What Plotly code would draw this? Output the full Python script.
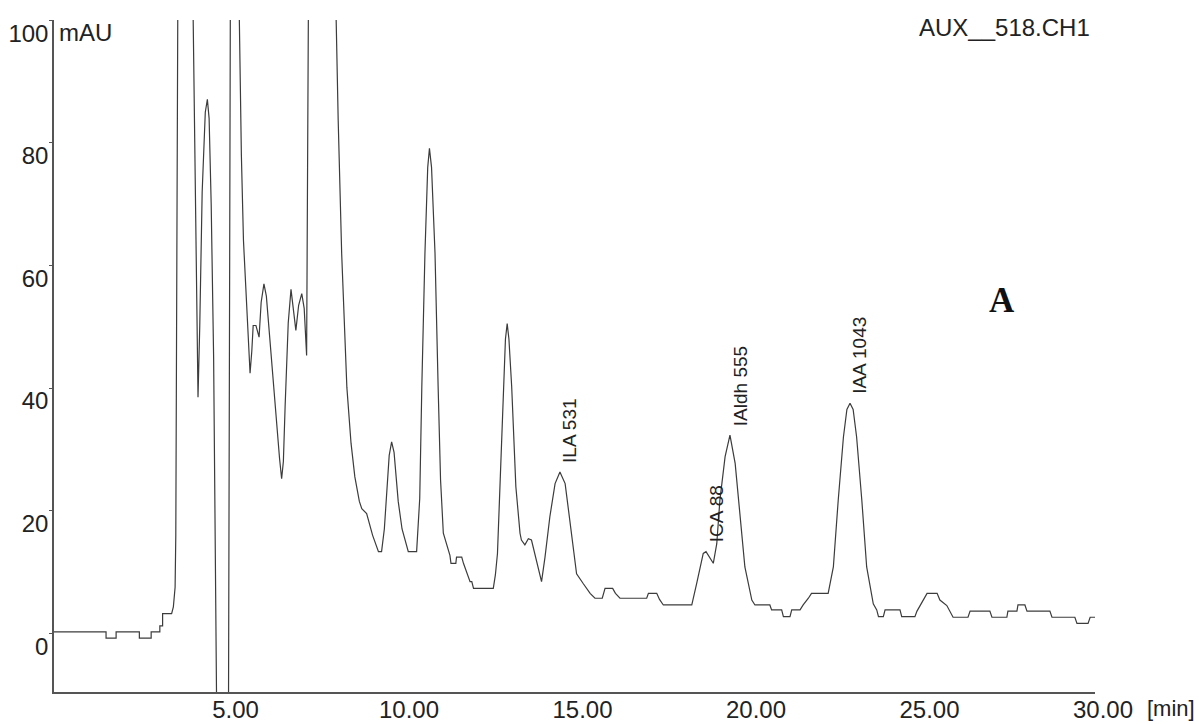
import plotly.graph_objects as go

# Chromatogram trace: retention time [min] and detector signal [mAU]
time_min = [
    0.00, 1.50, 1.50, 1.79, 1.79, 2.46, 2.46, 2.80, 2.80, 3.05, 3.05, 3.13, 3.13, 3.39,
    3.44, 3.49, 3.51, 3.53, 3.55, 3.78, 4.01, 4.08, 4.15, 4.20, 4.27, 4.36, 4.42, 4.47,
    4.53, 4.60, 4.66, 4.71, 4.76, 4.87, 4.98, 5.03, 5.08, 5.21, 5.34, 5.40, 5.46, 5.56,
    5.65, 5.70, 5.74, 5.82, 5.91, 5.97, 6.05, 6.12, 6.22, 6.32, 6.42, 6.50, 6.56, 6.61,
    6.66, 6.75, 6.83, 6.90, 6.97, 7.05, 7.14, 7.21, 7.28, 7.33, 7.72, 8.13, 8.19, 8.29,
    8.44, 8.56, 8.67, 8.80, 8.87, 9.01, 9.18, 9.35, 9.44, 9.52, 9.58, 9.66, 9.73, 9.80,
    9.86, 9.92, 10.03, 10.21, 10.45, 10.54, 10.60, 10.69, 10.77, 10.82, 10.88, 10.98,
    11.07, 11.14, 11.22, 11.41, 11.44, 11.58, 11.60, 11.75, 11.80, 11.99, 12.04, 12.09,
    12.66, 12.72, 12.78, 12.85, 12.95, 13.01, 13.06, 13.11, 13.19, 13.31, 13.43, 13.47,
    13.57, 13.67, 13.76, 13.90, 14.05, 14.15, 14.29, 14.44, 14.58, 14.73, 14.87, 15.06,
    15.25, 15.45, 15.59, 15.80, 15.88, 16.10, 16.18, 16.31, 17.08, 17.13, 17.37, 17.45,
    17.56, 18.38, 18.52, 18.62, 18.71, 18.79, 18.86, 19.00, 19.10, 19.19, 19.34, 19.48,
    19.63, 19.77, 19.91, 20.11, 20.20, 20.63, 20.68, 20.97, 21.02, 21.21, 21.26, 21.50,
    21.59, 21.74, 21.83, 22.31, 22.46, 22.60, 22.75, 22.85, 22.94, 23.03, 23.13, 23.28,
    23.42, 23.61, 23.71, 23.76, 23.90, 23.95, 24.38, 24.43, 24.81, 24.87, 24.96, 25.04,
    25.16, 25.45, 25.53, 25.73, 25.82, 25.91, 26.34, 26.40, 26.97, 27.03, 27.46, 27.49,
    27.75, 27.78, 27.98, 28.04, 28.70, 28.76, 29.42, 29.48, 29.80, 29.86, 30.00,
]
signal_mau = [
    0.2, 0.2, -0.8, -0.8, 0.2, 0.2, -0.8, -0.8, 0.2, 0.2, 1.2, 1.2, 3.2, 3.2,
    4.3, 7.5, 16.0, 45.0, 100.5, 420.0, 100.5, 70.0, 38.5, 50.0, 72.0, 85.0, 87.1, 84.0,
    70.0, 45.0, 15.0, -9.8, -60.0, -90.0, -60.0, -9.8, 100.5, 380.0, 100.5, 78.0, 64.1, 52.0,
    42.4, 46.0, 50.2, 50.2, 48.3, 54.0, 57.0, 55.0, 47.8, 41.0, 34.3, 28.5, 25.2, 28.0,
    36.9, 50.6, 56.1, 53.0, 49.4, 53.5, 55.4, 53.0, 45.3, 100.5, 600.0, 100.5, 83.7, 62.0,
    40.1, 31.0, 25.5, 21.5, 20.3, 19.5, 16.0, 13.3, 13.3, 17.0, 23.0, 29.0, 31.2, 29.5,
    25.5, 21.5, 17.0, 13.3, 13.3, 22.0, 40.2, 62.0, 76.0, 79.1, 76.0, 62.0,
    40.2, 25.0, 16.3, 12.7, 11.4, 11.4, 12.4, 12.4, 11.4, 8.4, 8.4, 7.3,
    7.3, 9.5, 13.0, 23.9, 40.2, 48.0, 50.5, 48.0, 40.2, 23.9, 16.3, 15.2,
    14.4, 15.4, 15.2, 12.0, 8.4, 12.4, 19.0, 24.4, 26.3, 24.4, 17.9, 9.7,
    8.1, 6.5, 5.7, 5.7, 7.3, 7.3, 6.5, 5.7, 5.7, 6.5, 6.5, 5.5,
    4.6, 4.6, 8.1, 10.8, 13.0, 13.3, 12.7, 11.4, 14.6, 21.7, 28.8, 32.3,
    27.7, 19.0, 10.8, 5.4, 4.6, 4.6, 3.8, 3.8, 2.7, 2.7, 3.8, 3.8,
    4.6, 5.7, 6.5, 6.5, 10.8, 21.7, 32.0, 36.5, 37.5, 36.5, 32.0, 21.7,
    10.8, 4.8, 3.8, 2.7, 2.7, 3.8, 3.8, 2.7, 2.7, 3.6, 4.5, 5.4,
    6.5, 6.5, 5.4, 4.5, 3.6, 2.6, 2.6, 3.6, 3.6, 2.6, 2.6, 3.6,
    3.6, 4.6, 4.6, 3.6, 3.6, 2.6, 2.6, 1.6, 1.6, 2.6, 2.6,
]

# Identified peaks: name with area, apex time and apex height
peak_names = ["ILA 531", "ICA 88", "IAldh 555", "IAA 1043"]
peak_times = [14.58, 18.79, 19.48, 22.94]
peak_heights = [26.3, 13.3, 32.3, 37.5]

x_ticks = [5, 10, 15, 20, 25, 30]
y_ticks = [0, 20, 40, 60, 80, 100]

INK = "#3c3c3c"
TEXT = "#222"
FONT = "Liberation Sans, Arial, sans-serif"

fig = go.Figure()
fig.add_trace(go.Scatter(
    x=time_min, y=signal_mau, mode="lines",
    line=dict(color=INK, width=1.2), hoverinfo="skip", showlegend=False,
))

annotations = []
for name, t, h in zip(peak_names, peak_times, peak_heights):
    annotations.append(dict(
        x=t, y=h, xref="x", yref="y", text=name, showarrow=False,
        textangle=-90, xanchor="center", yanchor="bottom",
        xshift=10, yshift=7, font=dict(family=FONT, size=19, color=TEXT),
    ))

annotations += [
    dict(x=0, y=100, xref="x", yref="y", text="mAU", showarrow=False,
         xanchor="left", yanchor="middle", xshift=3, yshift=-12,
         font=dict(family=FONT, size=24, color=TEXT)),
    dict(x=1, y=100, xref="paper", yref="y", text="AUX__518.CH1", showarrow=False,
         xanchor="right", yanchor="middle", xshift=-3, yshift=-7,
         font=dict(family=FONT, size=24, color=TEXT)),
    dict(x=30, y=-0.024, xref="x", yref="paper", text="[min]", showarrow=False,
         xanchor="left", yanchor="middle", xshift=50,
         font=dict(family=FONT, size=22, color=TEXT)),
    dict(x=27.32, y=54.3, xref="x", yref="y", text="<b>A</b>", showarrow=False,
         xanchor="center", yanchor="middle",
         font=dict(family="Liberation Serif, Times New Roman, serif", size=35, color="#111")),
]

fig.update_layout(
    width=1199, height=724,
    margin=dict(l=54, r=104, t=20, b=32, autoexpand=False),
    paper_bgcolor="white", plot_bgcolor="white",
    annotations=annotations,
    xaxis=dict(
        range=[0, 30], tickvals=x_ticks, tickformat=".2f", automargin=False,
        showgrid=False, zeroline=False, showline=True, linecolor="#555", linewidth=1.5,
        ticks="", ticklabelshift=8, ticklabelstandoff=-5,
        tickfont=dict(family=FONT, size=24, color=TEXT),
    ),
    yaxis=dict(
        range=[-9.6, 100.05], tickvals=y_ticks, automargin=False,
        showgrid=False, zeroline=False, showline=True, linecolor="#555", linewidth=1.5,
        ticks="outside", ticklen=3, tickcolor="#555", ticklabelshift=13,
        ticklabelstandoff=-4,
        tickfont=dict(family=FONT, size=24, color=TEXT),
    ),
)

fig.write_html("out.html")
